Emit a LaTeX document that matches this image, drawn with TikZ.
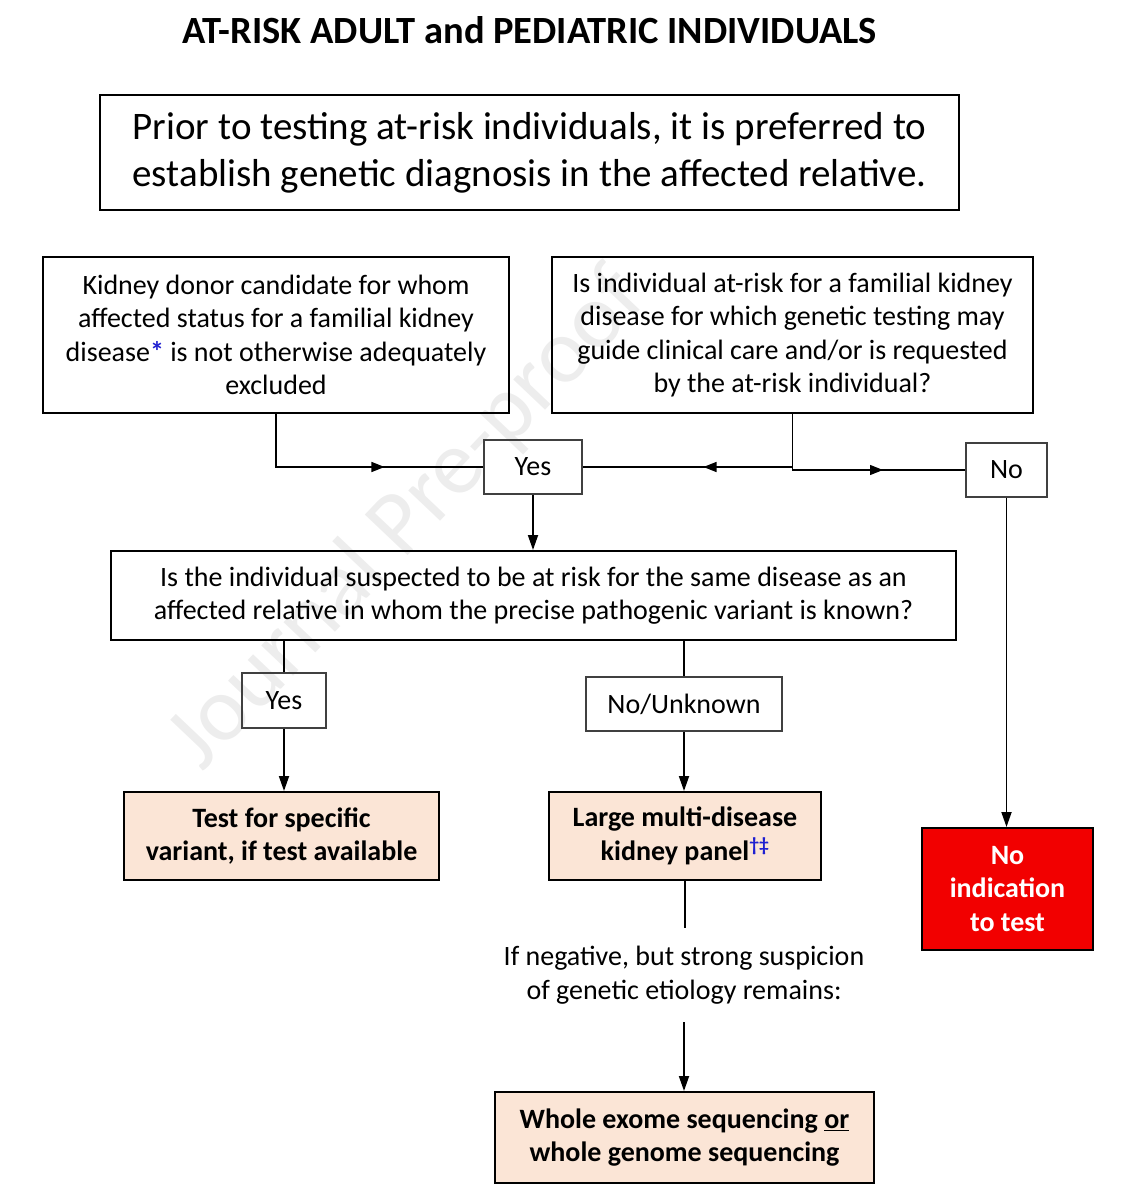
\documentclass[tikz,border=0pt]{standalone}
\usepackage{fontspec}
\setmainfont{Carlito}
\usetikzlibrary{arrows.meta,decorations.markings}

\definecolor{peach}{HTML}{FBE5D6}
\definecolor{stopred}{HTML}{F20000}
\definecolor{noteblue}{HTML}{1F1FD0}

\tikzset{
  frame/.style={draw, line width=2pt, align=center, inner sep=0pt},
  answer/.style={draw=black!75, line width=1.1pt, align=center, inner sep=0pt, font=\fontsize{28}{32}\selectfont},
  result/.style={frame, fill=peach, font=\fontsize{28}{33.5}\selectfont\bfseries},
  flow/.style={line width=1.8pt, -{Triangle[length=15pt,width=10pt]}},
  midarrow/.style={postaction={decorate}, decoration={markings,
    mark=at position #1 with {\draw[line width=2.6pt] (-22pt,0) -- (-8pt,0);
      \arrow{Triangle[length=13pt,width=10pt]}}}}
}

\begin{document}
\begin{tikzpicture}[x=1pt,y=-1pt]
  \useasboundingbox (0,0) rectangle (1141,1200);
  \node[rotate=46.5, text=black!7, font=\fontsize{92}{92}\selectfont] (wmark) at (408,520) {Journal Pre-proof};

  \node[font=\fontsize{38.5}{44}\selectfont\bfseries] (title) at (529.5,30) {AT-RISK ADULT and PEDIATRIC INDIVIDUALS};
  \node[frame, minimum width=859, minimum height=115, font=\fontsize{39}{47}\selectfont] (intro) at (529.5,152.5)
    {Prior to testing at-risk individuals, it is preferred to\\establish genetic diagnosis in the affected relative.};
  \node[frame, minimum width=466, minimum height=156, font=\fontsize{28}{33.5}\selectfont] (donor) at (276,335)
    {Kidney donor candidate for whom\\affected status for a familial kidney\\disease{\color{noteblue}\bfseries*} is not otherwise adequately\\excluded};
  \node[frame, minimum width=481, minimum height=156, font=\fontsize{28}{33.5}\selectfont] (atrisk) at (792.5,335)
    {Is individual at-risk for a familial kidney\\disease for which genetic testing may\\guide clinical care and/or is requested\\by the at-risk individual?};
  \node[answer, minimum width=98, minimum height=54] (yes1) at (533,467) {Yes};
  \node[answer, minimum width=81, minimum height=54] (no1) at (1006.5,470) {No};
  \node[frame, minimum width=845, minimum height=89, font=\fontsize{28}{33.5}\selectfont] (same) at (533.5,595.5)
    {Is the individual suspected to be at risk for the same disease as an\\affected relative in whom the precise pathogenic variant is known?};
  \node[answer, minimum width=84, minimum height=55] (yes2) at (284,700.5) {Yes};
  \node[answer, minimum width=196, minimum height=54] (unk) at (684,704) {No/Unknown};
  \node[result, minimum width=315, minimum height=88] (specific) at (281.5,836)
    {Test for specific\\variant, if test available};
  \node[result, minimum width=272, minimum height=88] (panel) at (685,836)
    {Large multi-disease\\kidney panel{\color{noteblue}\textsuperscript{†‡}}};
  \node[align=center, inner sep=0pt, minimum height=94, font=\fontsize{28}{33.5}\selectfont] (note) at (684,975)
    {If negative, but strong suspicion\\of genetic etiology remains:};
  \node[result, minimum width=379, minimum height=91] (wes) at (684.5,1137.5)
    {Whole exome sequencing \underline{or}\\whole genome sequencing};
  \node[frame, fill=stopred, text=white, minimum width=171, minimum height=122,
    font=\fontsize{28}{33.5}\selectfont\bfseries] (noind) at (1007.5,889) {No\\indication\\to test};

  \draw[line width=1.2pt, midarrow=0.62] (donor.south) |- (yes1.west);
  \draw[line width=1.2pt, midarrow=0.54] (atrisk.south) |- (yes1.east);
  \draw[line width=1.2pt, midarrow=0.64] (atrisk.south) |- (no1.west);
  \draw[line width=1.8pt] (same.south -| yes2.north) -- (yes2.north);
  \draw[line width=1.8pt] (same.south -| unk.north) -- (unk.north);
  \draw[line width=1.8pt] (panel.south) -- (panel.south |- note.north);
  \foreach \a/\b in {yes1/same, yes2/specific, unk/panel, no1/noind, note/wes}{
    \draw[flow] (\a.south) -- (\a.south |- \b.north);
  }
\end{tikzpicture}
\end{document}
